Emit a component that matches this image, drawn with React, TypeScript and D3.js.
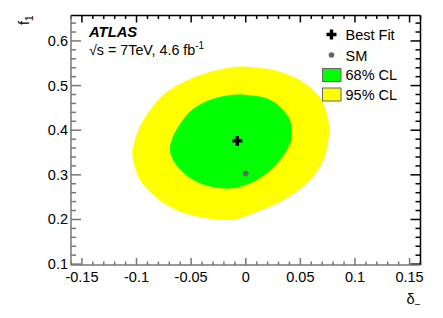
import React, { useEffect, useRef } from 'react';
import * as d3 from 'd3';

// tick labels
const deltaTicks = [-0.15, -0.1, -0.05, 0, 0.05, 0.1, 0.15];
const f1Ticks = [0.1, 0.2, 0.3, 0.4, 0.5, 0.6];

// 95% CL contour (delta_-, f1)
const cl95 = [
  [-0.0098, 0.5417], [0.0009, 0.5423], [0.0252, 0.5349], [0.0466, 0.5163],
  [0.0618, 0.4901], [0.071, 0.4603], [0.0765, 0.4079], [0.0756, 0.3781],
  [0.071, 0.3333], [0.0588, 0.2885], [0.0344, 0.2436], [0.01, 0.2174],
  [-0.0098, 0.2004], [-0.0312, 0.2011], [-0.0556, 0.2138], [-0.077, 0.2398],
  [-0.0892, 0.2661], [-0.0984, 0.2959], [-0.1039, 0.349], [-0.103, 0.3631],
  [-0.0984, 0.4005], [-0.0877, 0.4453], [-0.0739, 0.4827], [-0.0495, 0.5163],
  [-0.025, 0.5355],
];

// 68% CL contour
const cl68 = [
  [-0.0129, 0.4789], [0.0009, 0.4789], [0.0192, 0.4715], [0.0314, 0.4527],
  [0.0405, 0.4229], [0.0421, 0.3855], [0.039, 0.3631], [0.0314, 0.3333],
  [0.0192, 0.3035], [0.0039, 0.2811], [-0.0144, 0.2694], [-0.0373, 0.2773],
  [-0.0526, 0.2959], [-0.0648, 0.3259], [-0.0694, 0.3557], [-0.0678, 0.3781],
  [-0.0618, 0.4079], [-0.0495, 0.4453], [-0.0312, 0.4693],
];

const bestFit = [-0.0077, 0.376];
const smPoint = [0, 0.303];

const W = 443;
const H = 318;

export default function App() {
  const svgRef = useRef<SVGSVGElement>(null);

  useEffect(() => {
    if (!svgRef.current) return;
    const svg = d3.select(svgRef.current);
    svg.selectAll('*').remove();

    const font = "'Liberation Sans', Arial, Helvetica, sans-serif";
    const x = d3.scaleLinear().domain([-0.16, 0.16]).range([71, 420.5]);
    const y = d3.scaleLinear().domain([0.098, 0.657]).range([265, 15.5]);
    const [x0, x1] = x.range();
    const [y0, y1] = y.range();

    // contours
    const line = d3.line<number[]>()
      .x(d => x(d[0]))
      .y(d => y(d[1]))
      .curve(d3.curveCatmullRomClosed.alpha(0.5));

    svg.append('path').attr('d', line(cl95)).attr('fill', '#ffff00');
    svg.append('path').attr('d', line(cl68)).attr('fill', '#00ff00');

    // SM point
    svg.append('circle')
      .attr('cx', x(smPoint[0]))
      .attr('cy', y(smPoint[1]))
      .attr('r', 2.8)
      .attr('fill', '#666');

    // best fit cross
    const cross = (cx: number, cy: number, s: number, t: number) =>
      `M${cx - t},${cy - s}h${2 * t}v${s - t}h${s - t}v${2 * t}h${t - s}v${s - t}h${-2 * t}v${t - s}h${t - s}v${-2 * t}h${s - t}z`;
    svg.append('path')
      .attr('d', cross(x(bestFit[0]), y(bestFit[1]), 5, 1.7))
      .attr('fill', '#000');

    // ticks
    const gray = '#777';
    const minorX = d3.range(-0.16, 0.1601, 0.01).map(v => Math.round(v * 100) / 100);
    const minorY = d3.range(0.1, 0.657, 0.02).map(v => Math.round(v * 100) / 100);
    const isMajorX = (v: number) => deltaTicks.some(t => Math.abs(t - v) < 1e-6);
    const isMajorY = (v: number) => f1Ticks.some(t => Math.abs(t - v) < 1e-6);

    const ticks = svg.append('g').attr('stroke-width', 1.5).attr('fill', 'none');
    minorX.forEach(v => {
      const len = isMajorX(v) ? 7 : 3.5;
      ticks.append('line').attr('x1', x(v)).attr('x2', x(v)).attr('y1', y0).attr('y2', y0 - len).attr('stroke', gray);
      ticks.append('line').attr('x1', x(v)).attr('x2', x(v)).attr('y1', y1).attr('y2', y1 + len).attr('stroke', '#000');
    });
    minorY.forEach(v => {
      const len = isMajorY(v) ? 10 : 5;
      ticks.append('line').attr('x1', x0).attr('x2', x0 + len).attr('y1', y(v)).attr('y2', y(v)).attr('stroke', gray);
      ticks.append('line').attr('x1', x1).attr('x2', x1 - len).attr('y1', y(v)).attr('y2', y(v)).attr('stroke', '#000');
    });

    // frame
    svg.append('line').attr('x1', x0).attr('x2', x1).attr('y1', y1).attr('y2', y1).attr('stroke', '#000').attr('stroke-width', 1.5);
    svg.append('line').attr('x1', x1).attr('x2', x1).attr('y1', y1).attr('y2', y0).attr('stroke', '#000').attr('stroke-width', 1.5);
    svg.append('line').attr('x1', x0).attr('x2', x1).attr('y1', y0).attr('y2', y0).attr('stroke', gray).attr('stroke-width', 1.5);
    svg.append('line').attr('x1', x0).attr('x2', x0).attr('y1', y1).attr('y2', y0).attr('stroke', gray).attr('stroke-width', 1.5);

    // tick labels
    deltaTicks.forEach(v => {
      svg.append('text')
        .attr('x', x(v)).attr('y', 281.5)
        .attr('text-anchor', 'middle')
        .attr('font-family', font).attr('font-size', 14.5).attr('fill', '#000')
        .text(String(v));
    });
    f1Ticks.forEach(v => {
      svg.append('text')
        .attr('x', 68).attr('y', y(v) + 5)
        .attr('text-anchor', 'end')
        .attr('font-family', font).attr('font-size', 14.5).attr('fill', '#000')
        .text(String(v));
    });

    // axis titles
    const xt = svg.append('text')
      .attr('x', x1).attr('y', 304)
      .attr('text-anchor', 'end')
      .attr('font-family', font).attr('font-size', 14.5);
    xt.append('tspan').text('δ');
    xt.append('tspan').attr('dy', 4).attr('font-size', 10).text('−');

    const yt = svg.append('text')
      .attr('transform', `translate(29,${y1}) rotate(-90)`)
      .attr('text-anchor', 'end')
      .attr('font-family', font).attr('font-size', 14.5);
    yt.append('tspan').text('f');
    yt.append('tspan').attr('dy', 4).attr('font-size', 10).text('1');

    // ATLAS label
    svg.append('text')
      .attr('x', 89).attr('y', 37)
      .attr('font-family', font).attr('font-size', 14.8)
      .attr('font-weight', 'bold').attr('font-style', 'italic')
      .text('ATLAS');
    const en = svg.append('text')
      .attr('x', 89).attr('y', 55)
      .attr('font-family', font).attr('font-size', 14.3);
    en.append('tspan').text('√s = 7TeV, 4.6 fb');
    en.append('tspan').attr('dy', -6).attr('font-size', 10).text('-1');

    // legend
    const lg = svg.append('g').attr('font-family', font).attr('font-size', 14.5);
    lg.append('path').attr('d', cross(331.5, 34.5, 5, 1.7)).attr('fill', '#000');
    lg.append('text').attr('x', 345.5).attr('y', 40).text('Best Fit');
    lg.append('circle').attr('cx', 331.5).attr('cy', 55).attr('r', 2.8).attr('fill', '#666');
    lg.append('text').attr('x', 345.5).attr('y', 60.5).text('SM');
    lg.append('rect').attr('x', 322.5).attr('y', 68.5).attr('width', 18.5).attr('height', 13)
      .attr('fill', '#00ff00').attr('stroke', '#666').attr('stroke-width', 1);
    lg.append('text').attr('x', 345.5).attr('y', 80).text('68% CL');
    lg.append('rect').attr('x', 322.5).attr('y', 88).attr('width', 18.5).attr('height', 13)
      .attr('fill', '#ffff00').attr('stroke', '#666').attr('stroke-width', 1);
    lg.append('text').attr('x', 345.5).attr('y', 99.5).text('95% CL');
  }, []);

  return (
    <svg
      ref={svgRef}
      width={W}
      height={H}
      style={{ position: 'absolute', left: 0, top: 0, background: '#fff' }}
    />
  );
}
